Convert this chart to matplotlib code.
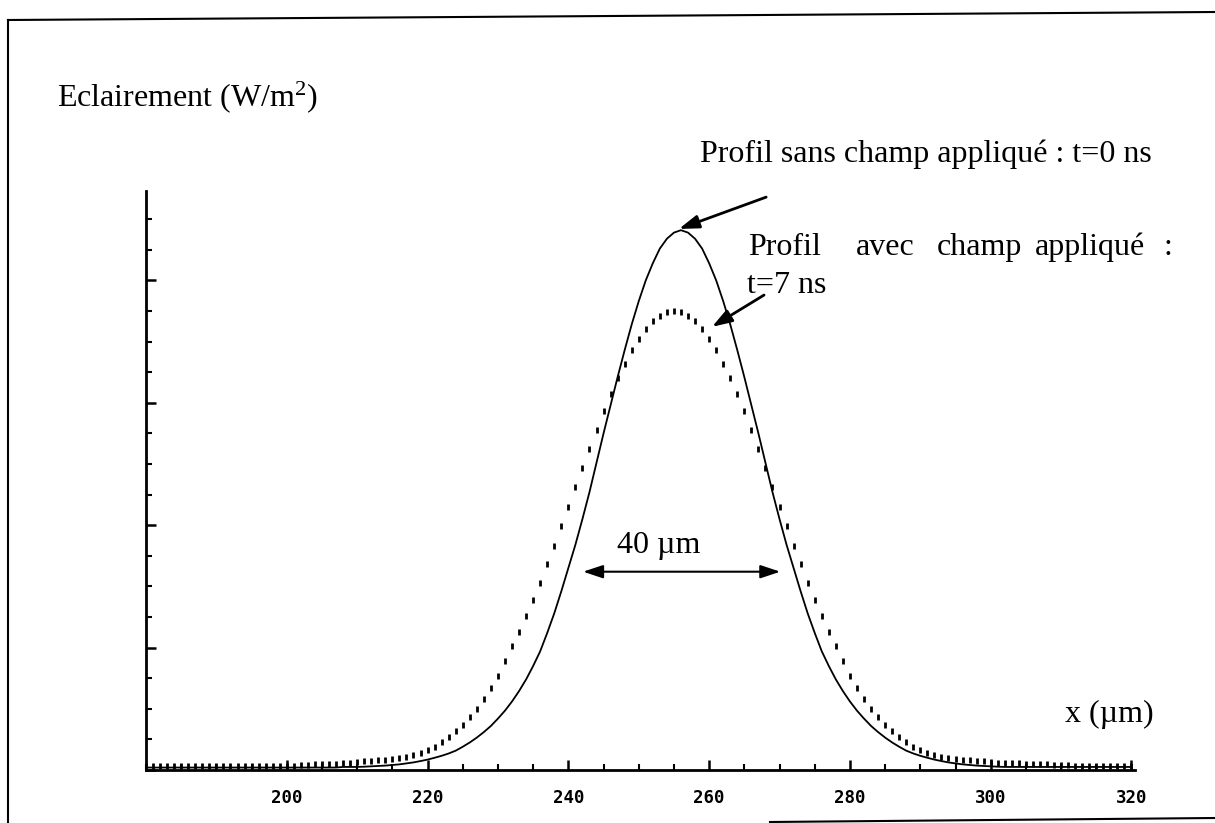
import numpy as np
import matplotlib
matplotlib.use('Agg')
import matplotlib.pyplot as plt
from matplotlib.ticker import MultipleLocator
from matplotlib.lines import Line2D

plt.rcParams['font.family'] = ['Liberation Serif', 'DejaVu Serif']
plt.rcParams['mathtext.fontset'] = 'custom'
plt.rcParams['mathtext.rm'] = 'Liberation Serif'
plt.rcParams['mathtext.it'] = 'Liberation Serif:italic'

# profile without field (t=0 ns), sampled every 1 um
x_solid = np.arange(180, 321, 1)
y_solid = [
    0.02, 0.02, 0.02, 0.02, 0.02, 0.02, 0.02, 0.02, 0.02, 0.02,        # 180-189
    0.02, 0.02, 0.02, 0.02, 0.02, 0.02, 0.02, 0.02, 0.02, 0.02,        # 190-199
    0.02, 0.02, 0.02, 0.02, 0.02, 0.02, 0.02, 0.02, 0.025, 0.025,      # 200-209
    0.025, 0.027, 0.03, 0.033, 0.036, 0.041, 0.046, 0.054, 0.062, 0.073,  # 210-219
    0.085, 0.10, 0.116, 0.135, 0.158, 0.19, 0.225, 0.265, 0.31, 0.36,  # 220-229
    0.42, 0.485, 0.56, 0.645, 0.74, 0.85, 0.97, 1.12, 1.28, 1.46,      # 230-239
    1.65, 1.84, 2.05, 2.27, 2.51, 2.75, 2.98, 3.21, 3.43, 3.64,        # 240-249
    3.83, 4.00, 4.14, 4.26, 4.34, 4.39, 4.41, 4.39, 4.34, 4.26,        # 250-259
    4.14, 4.00, 3.83, 3.64, 3.43, 3.21, 2.98, 2.75, 2.51, 2.27,        # 260-269
    2.05, 1.84, 1.65, 1.46, 1.28, 1.12, 0.97, 0.85, 0.74, 0.645,       # 270-279
    0.56, 0.485, 0.42, 0.36, 0.31, 0.265, 0.225, 0.19, 0.158, 0.135,   # 280-289
    0.116, 0.10, 0.085, 0.073, 0.062, 0.054, 0.046, 0.041, 0.036, 0.033,  # 290-299
    0.03, 0.027, 0.025, 0.025, 0.025, 0.025, 0.025, 0.025, 0.025, 0.025,  # 300-309
    0.025, 0.025, 0.025, 0.025, 0.025, 0.025, 0.025, 0.025, 0.025, 0.025,  # 310-319
    0.025,                                                             # 320
]

# profile with field (t=7 ns), sampled every 1 um
x_dot = np.arange(180, 321, 1)
y_dot = [
    0.035, 0.035, 0.035, 0.035, 0.035, 0.035, 0.035, 0.035, 0.035, 0.035,  # 180-189
    0.035, 0.035, 0.035, 0.035, 0.035, 0.035, 0.035, 0.035, 0.035, 0.035,  # 190-199
    0.035, 0.035, 0.04, 0.04, 0.045, 0.045, 0.05, 0.05, 0.055, 0.06,       # 200-209
    0.065, 0.07, 0.075, 0.08, 0.085, 0.09, 0.10, 0.11, 0.12, 0.14,   # 210-219
    0.16, 0.19, 0.23, 0.27, 0.32, 0.37, 0.43, 0.50, 0.58, 0.67,      # 220-229
    0.77, 0.89, 1.01, 1.13, 1.26, 1.39, 1.53, 1.68, 1.83, 1.99,      # 230-239
    2.15, 2.31, 2.47, 2.62, 2.78, 2.93, 3.07, 3.20, 3.32, 3.43,      # 240-249
    3.52, 3.60, 3.67, 3.71, 3.74, 3.75, 3.74, 3.71, 3.67, 3.60,      # 250-259
    3.52, 3.43, 3.32, 3.20, 3.07, 2.93, 2.78, 2.62, 2.47, 2.31,      # 260-269
    2.15, 1.99, 1.83, 1.68, 1.53, 1.39, 1.26, 1.13, 1.01, 0.89,      # 270-279
    0.77, 0.67, 0.58, 0.50, 0.43, 0.37, 0.32, 0.27, 0.23, 0.19,      # 280-289
    0.16, 0.14, 0.12, 0.11, 0.10, 0.09, 0.085, 0.08, 0.075, 0.07,    # 290-299
    0.065, 0.06, 0.06, 0.055, 0.055, 0.05, 0.05, 0.045, 0.045, 0.04,  # 300-309
    0.04, 0.04, 0.035, 0.035, 0.035, 0.035, 0.035, 0.035, 0.035, 0.035,  # 310-319
    0.035,                                                            # 320
]

x_ticks = [200, 220, 240, 260, 280, 300, 320]

W, H = 1215, 823
fig = plt.figure(figsize=(W / 100, H / 100), dpi=100)


def fpx(x, y):
    # pixel position (from top-left) -> figure fraction
    return x / W, 1 - y / H


ax = fig.add_axes([146 / W, 1 - 770 / H, (1135 - 146) / W, (770 - 191) / H])
ax.plot(x_solid, y_solid, color='black', lw=1.3)
ax.plot(x_dot, y_dot, linestyle='none', marker='|', ms=4.5, mew=2, color='black')

ax.set_xlim(180, 320.5)
ax.set_ylim(0, 4.73)
ax.set_xticks(x_ticks)
ax.xaxis.set_minor_locator(MultipleLocator(5))
ax.yaxis.set_major_locator(MultipleLocator(1))
ax.yaxis.set_minor_locator(MultipleLocator(0.25))
ax.set_yticklabels([])
for s in ['top', 'right']:
    ax.spines[s].set_visible(False)
for s in ['left', 'bottom']:
    ax.spines[s].set_linewidth(2)
ax.tick_params(which='major', direction='in', length=7, width=1.8, pad=14)
ax.tick_params(which='minor', direction='in', length=4, width=1.5)
for lab in ax.get_xticklabels():
    lab.set_fontfamily('DejaVu Sans Mono')
    lab.set_fontweight('bold')
    lab.set_fontsize(12.5)

fs = 23
fig.text(*fpx(57, 106), 'Eclairement (W/m$^2$)', fontsize=fs, va='baseline')
fig.text(*fpx(700, 162), 'Profil sans champ appliqué : t=0 ns', fontsize=fs, va='baseline')
# justified second label
for word, xp in [('Profil', 748), ('avec', 856), ('champ', 937), ('appliqué', 1035), (':', 1163)]:
    fig.text(*fpx(xp, 255), word, fontsize=fs, va='baseline')
fig.text(*fpx(747, 293), 't=7 ns', fontsize=fs, va='baseline')
fig.text(*fpx(659, 553), '40 µm', fontsize=fs, va='baseline', ha='center')
fig.text(*fpx(1065, 722), 'x (µm)', fontsize=fs, va='baseline')

arrow = dict(arrowstyle='-|>,head_length=1.2,head_width=0.4', color='black', lw=2,
             shrinkA=0, shrinkB=0)
ax.annotate('', xy=(255.7, 4.42), xytext=(268.1, 4.68), arrowprops=arrow)
ax.annotate('', xy=(260.4, 3.62), xytext=(267.8, 3.88), arrowprops=arrow)
darrow = dict(arrowstyle='<|-|>,head_length=1.2,head_width=0.4', color='black', lw=1.5,
              shrinkA=0, shrinkB=0)
ax.annotate('', xy=(242.1, 1.62), xytext=(270.1, 1.62), arrowprops=darrow)

# scanned page frame
fig.add_artist(Line2D([8 / W, 1], [1 - 20 / H, 1 - 12 / H], color='black', lw=1.5))
fig.add_artist(Line2D([8 / W, 8 / W], [1 - 20 / H, 0], color='black', lw=1.5))
fig.add_artist(Line2D([770 / W, 1], [1 - 822 / H, 1 - 818 / H], color='black', lw=1.5))

fig.savefig('out.png', dpi=100)
